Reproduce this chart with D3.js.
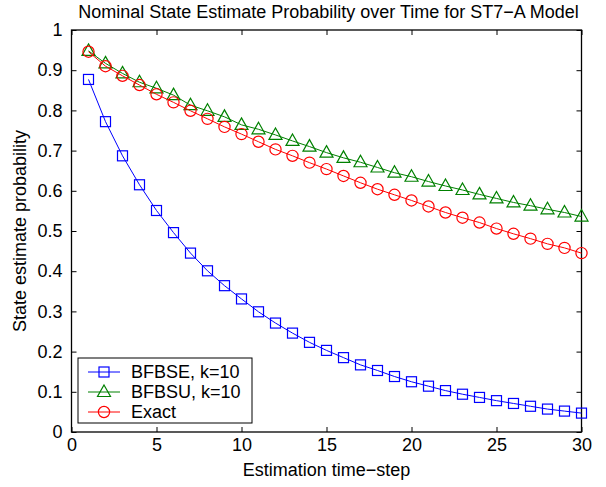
<!DOCTYPE html>
<html>
<head>
<meta charset="utf-8">
<script src="https://cdn.jsdelivr.net/npm/d3@7"></script>
<style>
  body { margin: 0; background: #fff; }
  text { font-family: "Liberation Sans", Arial, sans-serif; }
</style>
</head>
<body>
<div id="chart"></div>
<script>
// data
var steps = d3.range(1, 31);
var bfbse = [0.877, 0.772, 0.687, 0.615, 0.551, 0.496, 0.445, 0.401, 0.364, 0.331,
             0.299, 0.271, 0.246, 0.223, 0.203, 0.185, 0.167, 0.153, 0.138, 0.125,
             0.114, 0.103, 0.094, 0.086, 0.078, 0.071, 0.064, 0.057, 0.052, 0.047];
var bfbsu = [0.948, 0.917, 0.892, 0.870, 0.855, 0.838, 0.813, 0.799, 0.784, 0.764,
             0.753, 0.739, 0.724, 0.710, 0.695, 0.682, 0.671, 0.658, 0.645, 0.635,
             0.623, 0.612, 0.602, 0.591, 0.581, 0.571, 0.563, 0.554, 0.546, 0.536];
var exact = [0.946, 0.910, 0.886, 0.863, 0.840, 0.820, 0.799, 0.779, 0.759, 0.741,
             0.722, 0.703, 0.687, 0.670, 0.654, 0.637, 0.620, 0.604, 0.590, 0.576,
             0.561, 0.546, 0.533, 0.521, 0.506, 0.493, 0.481, 0.468, 0.458, 0.445];
var xTicks = [0, 5, 10, 15, 20, 25, 30];
var yTicks = [0, 0.1, 0.2, 0.3, 0.4, 0.5, 0.6, 0.7, 0.8, 0.9, 1];
var seriesNames = ["BFBSE, k=10", "BFBSU, k=10", "Exact"];
var seriesColors = ["#0000ff", "#008000", "#ff0000"];
var seriesMarkers = ["square", "triangle", "circle"];

var width = 606, height = 487;
var pl = 71.5, pr = 581.5, pt = 30, pb = 432;
var fs = 18;

var svg = d3.select("#chart").append("svg")
    .attr("width", width)
    .attr("height", height);

var x = d3.scaleLinear().domain([0, 30]).range([pl, pr]);
var y = d3.scaleLinear().domain([0, 1]).range([pb, pt]);

// axes box with inward ticks (matlab style)
var tl = 5;
svg.append("g").attr("transform", "translate(0," + pb + ")")
    .call(d3.axisBottom(x).tickValues(xTicks).tickSizeInner(-tl).tickSizeOuter(0).tickPadding(6))
    .call(function (g) { g.select(".domain").remove(); });
svg.append("g").attr("transform", "translate(0," + pt + ")")
    .call(d3.axisTop(x).tickValues(xTicks).tickSizeInner(-tl).tickSizeOuter(0).tickFormat(""))
    .call(function (g) { g.select(".domain").remove(); });
svg.append("g").attr("transform", "translate(" + pl + ",0)")
    .call(d3.axisLeft(y).tickValues(yTicks).tickSizeInner(-tl).tickSizeOuter(0).tickPadding(9)
        .tickFormat(function (d) { return d3.format("~g")(d); }))
    .call(function (g) { g.select(".domain").remove(); });
svg.append("g").attr("transform", "translate(" + pr + ",0)")
    .call(d3.axisRight(y).tickValues(yTicks).tickSizeInner(-tl).tickSizeOuter(0).tickFormat(""))
    .call(function (g) { g.select(".domain").remove(); });

svg.selectAll(".tick text").attr("font-size", fs).attr("fill", "#000")
    .attr("font-family", "'Liberation Sans', Arial, sans-serif");
svg.selectAll(".tick line").attr("stroke", "#000");

svg.append("rect")
    .attr("x", pl).attr("y", pt)
    .attr("width", pr - pl).attr("height", pb - pt)
    .attr("fill", "none").attr("stroke", "#000").attr("stroke-width", 1.3);

function marker(sel, kind, color) {
  if (kind === "square") {
    sel.append("rect").attr("x", -5).attr("y", -5).attr("width", 10).attr("height", 10)
       .attr("fill", "none").attr("stroke", color).attr("stroke-width", 1.2);
  } else if (kind === "triangle") {
    sel.append("path").attr("d", "M0,-7L6.5,4.5L-6.5,4.5Z")
       .attr("fill", "none").attr("stroke", color).attr("stroke-width", 1.2);
  } else {
    sel.append("circle").attr("r", 5.6)
       .attr("fill", "none").attr("stroke", color).attr("stroke-width", 1.2);
  }
}

var allSeries = [bfbse, bfbsu, exact];
var line = d3.line().x(function (d) { return x(d[0]); }).y(function (d) { return y(d[1]); });

allSeries.forEach(function (vals, i) {
  var pts = steps.map(function (s, j) { return [s, vals[j]]; });
  svg.append("path").datum(pts)
      .attr("d", line)
      .attr("fill", "none")
      .attr("stroke", seriesColors[i])
      .attr("stroke-width", 1);
  svg.append("g").selectAll("g")
      .data(pts).enter().append("g")
      .attr("transform", function (d) { return "translate(" + x(d[0]) + "," + y(d[1]) + ")"; })
      .each(function () { marker(d3.select(this), seriesMarkers[i], seriesColors[i]); });
});

// title and axis labels
svg.append("text").attr("x", (pl + pr) / 2 + 2).attr("y", 18)
    .attr("text-anchor", "middle").attr("font-size", fs).text("Nominal State Estimate Probability over Time for ST7\u2212A Model");
svg.append("text").attr("x", (pl + pr) / 2).attr("y", 476)
    .attr("text-anchor", "middle").attr("font-size", fs).text("Estimation time\u2212step");
svg.append("text").attr("transform", "translate(26," + (pt + pb) / 2 + ") rotate(-90)")
    .attr("text-anchor", "middle").attr("font-size", fs).text("State estimate probability");

// legend
var lg = svg.append("g");
lg.append("rect").attr("x", 78).attr("y", 358).attr("width", 174).attr("height", 65)
    .attr("fill", "#fff").attr("stroke", "#000").attr("stroke-width", 1);
seriesNames.forEach(function (name, i) {
  var yy = 372 + i * 20;
  lg.append("line").attr("x1", 88).attr("x2", 120).attr("y1", yy).attr("y2", yy)
      .attr("stroke", seriesColors[i]).attr("stroke-width", 1);
  var m = lg.append("g").attr("transform", "translate(104," + yy + ")");
  marker(m, seriesMarkers[i], seriesColors[i]);
  lg.append("text").attr("x", 131).attr("y", yy + 6).attr("font-size", fs).text(name);
});
</script>
</body>
</html>
